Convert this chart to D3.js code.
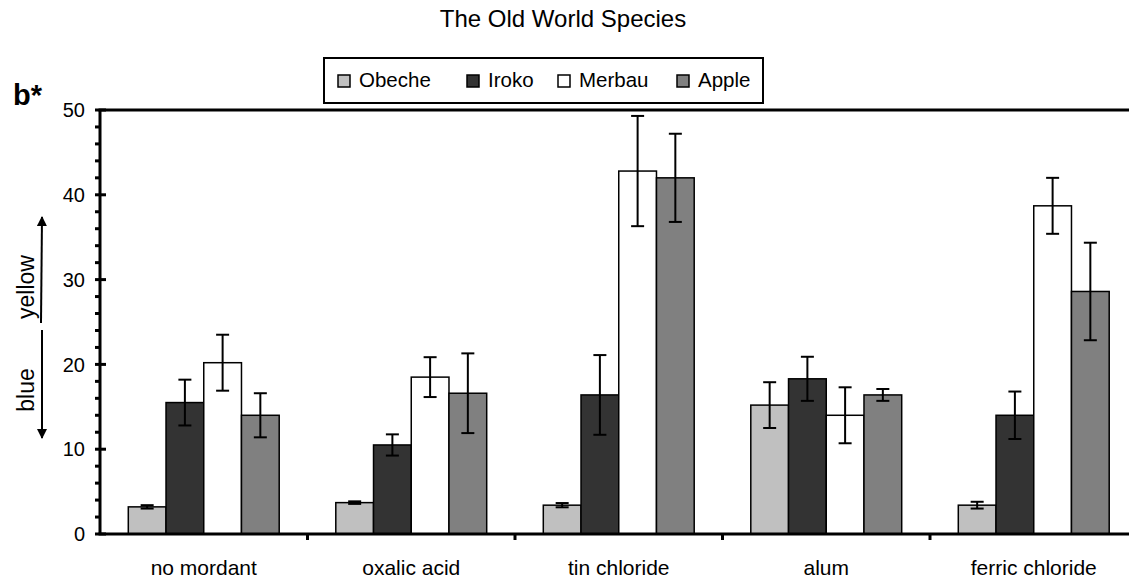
<!DOCTYPE html>
<html><head><meta charset="utf-8">
<script src="https://cdn.jsdelivr.net/npm/d3@7"></script>
<style>body{margin:0;background:#fff}svg{display:block;font-family:"Liberation Sans",Arial,sans-serif}</style>
</head><body><svg id="c" width="1129" height="580"></svg>
<script>
const categories = ["no mordant","oxalic acid","tin chloride","alum","ferric chloride"];
const seriesNames = ["Obeche","Iroko","Merbau","Apple"];
const seriesColors = ["#c0c0c0","#333333","#ffffff","#808080"];
const obeche = [3.2, 3.7, 3.4, 15.2, 3.4];
const iroko  = [15.5, 10.5, 16.4, 18.3, 14.0];
const merbau = [20.2, 18.5, 42.8, 14.0, 38.7];
const apple  = [14.0, 16.6, 42.0, 16.4, 28.6];
const obecheErr = [0.2, 0.15, 0.25, 2.7, 0.4];
const irokoErr  = [2.7, 1.25, 4.7, 2.6, 2.8];
const merbauErr = [3.3, 2.35, 6.5, 3.3, 3.3];
const appleErr  = [2.6, 4.7, 5.2, 0.7, 5.75];
const yTicks = [0,10,20,30,40,50];

const values = [obeche, iroko, merbau, apple];
const errors = [obecheErr, irokoErr, merbauErr, appleErr];

const svg = d3.select("#c");
const L = 100, R = 1137.5, T = 110, B = 534;
const x0 = d3.scaleBand().domain(categories).range([L, R]).paddingInner(0).paddingOuter(0);
const bw = x0.bandwidth() / 5.5;
const x1 = d3.scaleBand().domain(seriesNames).range([0.75*bw, 4.75*bw]);
const y = d3.scaleLinear().domain([0,50]).range([B, T]);

// title
svg.append("text").attr("x", 563).attr("y", 27).attr("text-anchor","middle")
  .attr("font-size", 24).text("The Old World Species");

// bars
seriesNames.forEach((s, si) => {
  const g = svg.append("g");
  categories.forEach((c, ci) => {
    const v = values[si][ci];
    g.append("rect").attr("x", x0(c) + x1(s)).attr("y", y(v))
      .attr("width", x1.bandwidth()).attr("height", y(0) - y(v))
      .attr("fill", seriesColors[si]).attr("stroke", "#000").attr("stroke-width", 1.5);
  });
});
// error bars
seriesNames.forEach((s, si) => {
  categories.forEach((c, ci) => {
    const v = values[si][ci], e = errors[si][ci];
    const cx = x0(c) + x1(s) + x1.bandwidth()/2;
    const g = svg.append("g").attr("stroke","#000").attr("stroke-width",2);
    g.append("line").attr("x1",cx).attr("x2",cx).attr("y1",y(v+e)).attr("y2",y(v-e));
    g.append("line").attr("x1",cx-6.5).attr("x2",cx+6.5).attr("y1",y(v+e)).attr("y2",y(v+e));
    g.append("line").attr("x1",cx-6.5).attr("x2",cx+6.5).attr("y1",y(v-e)).attr("y2",y(v-e));
  });
});

// plot frame: top line, left axis, bottom axis
svg.append("line").attr("x1",L-1.5).attr("x2",R).attr("y1",T).attr("y2",T).attr("stroke","#000").attr("stroke-width",3);
svg.append("line").attr("x1",L).attr("x2",L).attr("y1",T).attr("y2",B).attr("stroke","#000").attr("stroke-width",3);
svg.append("line").attr("x1",L-1.5).attr("x2",R).attr("y1",B).attr("y2",B).attr("stroke","#000").attr("stroke-width",3);

// y axis ticks
const minor = d3.range(0, 51, 2).filter(v => v % 10 !== 0);
svg.append("g").selectAll("line").data(minor).join("line")
  .attr("x1", L-5).attr("x2", L).attr("y1", d=>y(d)).attr("y2", d=>y(d))
  .attr("stroke","#000").attr("stroke-width",3);
svg.append("g").selectAll("line").data(yTicks).join("line")
  .attr("x1", L-5).attr("x2", L+6).attr("y1", d=>y(d)).attr("y2", d=>y(d))
  .attr("stroke","#000").attr("stroke-width",3);
svg.append("g").selectAll("text").data(yTicks).join("text")
  .attr("x", 85).attr("y", d=>y(d)).attr("dy","0.36em").attr("text-anchor","end")
  .attr("font-size", 20).text(d=>d);

// x axis category ticks
svg.append("g").selectAll("line").data(categories.slice(1)).join("line")
  .attr("x1", d=>x0(d)).attr("x2", d=>x0(d)).attr("y1", B).attr("y2", B+6)
  .attr("stroke","#000").attr("stroke-width",3);
svg.append("g").selectAll("text").data(categories).join("text")
  .attr("x", d=>x0(d)+x0.bandwidth()/2).attr("y", 575).attr("text-anchor","middle")
  .attr("font-size", 21).text(d=>d);

// b* label
svg.append("text").attr("x", 13).attr("y", 105).attr("font-size", 29).attr("font-weight","bold").text("b*");

// yellow/blue arrows
const defs = svg.append("defs");
defs.append("marker").attr("id","ah").attr("viewBox","0 0 10 10").attr("refX",9).attr("refY",5)
  .attr("markerWidth",5).attr("markerHeight",5).attr("orient","auto-start-reverse")
  .append("path").attr("d","M0,0 L10,5 L0,10 z").attr("fill","#000");
svg.append("line").attr("x1",41).attr("x2",42).attr("y1",323).attr("y2",217)
  .attr("stroke","#000").attr("stroke-width",2).attr("marker-end","url(#ah)");
svg.append("line").attr("x1",42).attr("x2",42).attr("y1",330).attr("y2",438)
  .attr("stroke","#000").attr("stroke-width",2).attr("marker-end","url(#ah)");
svg.append("text").attr("transform","translate(34,287) rotate(-90)").attr("text-anchor","middle")
  .attr("font-size",23).text("yellow");
svg.append("text").attr("transform","translate(34,390) rotate(-90)").attr("text-anchor","middle")
  .attr("font-size",23).text("blue");

// legend
const lg = svg.append("g");
lg.append("rect").attr("x",324).attr("y",58).attr("width",439).attr("height",45)
  .attr("fill","#fff").attr("stroke","#000").attr("stroke-width",2);
const legX = [338, 467, 558, 677];
seriesNames.forEach((s, i) => {
  lg.append("rect").attr("x", legX[i]).attr("y", 75).attr("width",12).attr("height",12)
    .attr("fill", seriesColors[i]).attr("stroke","#000").attr("stroke-width",1.5);
  lg.append("text").attr("x", legX[i]+21).attr("y", 87)
    .attr("font-size",20.5).text(s);
});
</script></body></html>
